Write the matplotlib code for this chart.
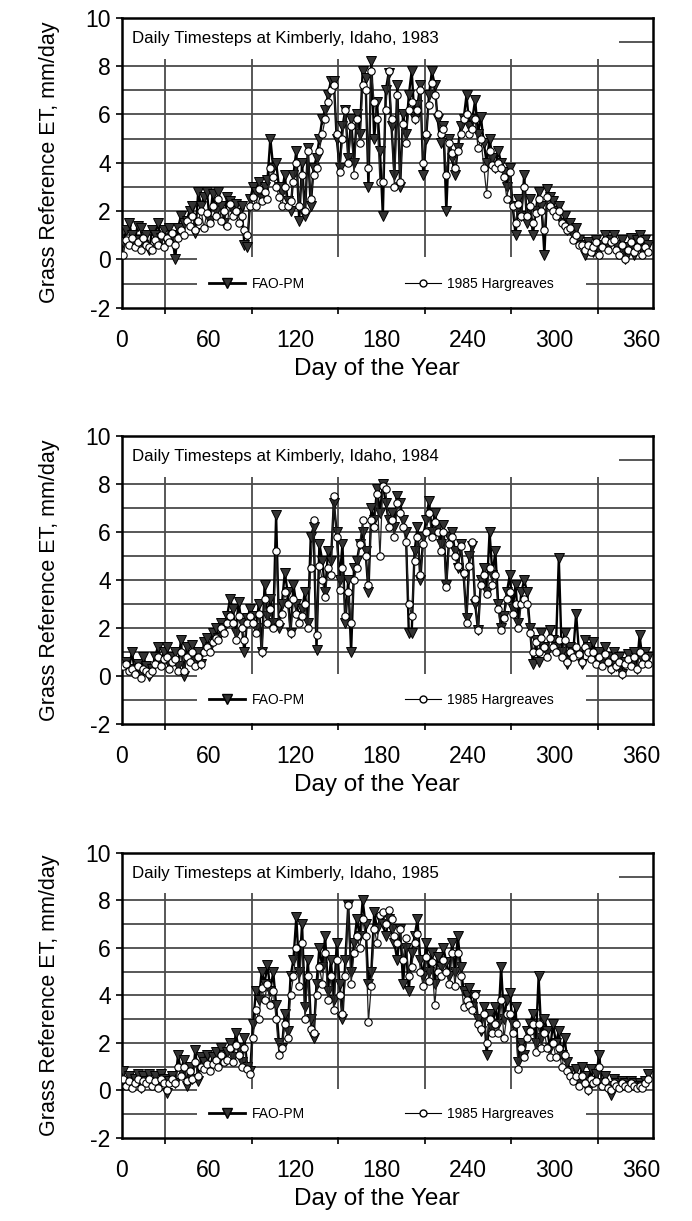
import numpy as np
import matplotlib.pyplot as plt
from matplotlib.patches import Rectangle
from matplotlib.lines import Line2D

plt.rcParams['font.family'] = ['Liberation Sans', 'DejaVu Sans']
plt.rcParams['axes.unicode_minus'] = False

# every second day of the year
days = np.arange(1, 366, 2)

# grass reference ET, mm/day
fao_1983 = [0.7, 1.2, 1.5, 1.0, 0.8, 1.4, 1.3, 0.6, 1.0, 0.4,
            1.2, 1.0, 1.5, 0.9, 1.2, 0.7, 1.3, 1.0, 0.0, 1.3,
            1.8, 1.5, 1.6, 2.0, 2.2, 1.1, 2.8, 2.2, 2.6, 2.8,
            1.6, 2.7, 2.0, 2.8, 2.2, 1.5, 2.6, 2.4, 2.0, 2.3,
            1.9, 2.2, 0.6, 0.5, 2.5, 3.0, 2.8, 3.2, 2.5, 3.0,
            3.3, 5.0, 3.8, 4.0, 3.0, 2.8, 3.5, 2.4, 2.0, 3.5,
            4.5, 1.6, 4.0, 1.8, 4.6, 2.2, 3.8, 4.2, 5.0, 5.8,
            6.2, 6.8, 7.4, 7.4, 5.0, 3.8, 5.5, 6.2, 4.2, 5.8,
            4.0, 6.0, 5.2, 7.8, 7.5, 3.0, 8.2, 5.0, 6.5, 4.5,
            1.8, 7.0, 7.7, 5.5, 3.5, 7.2, 3.0, 6.0, 5.2, 6.8,
            7.8, 5.8, 6.4, 7.2, 3.5, 5.0, 6.8, 7.8, 7.2, 5.8,
            4.8, 5.5, 2.0, 5.0, 4.2, 3.5, 4.6, 5.5, 5.8, 6.8,
            5.5, 5.8, 6.6, 5.2, 5.9, 4.8, 4.0, 5.0, 4.2, 3.8,
            4.5, 4.0, 3.6, 3.0, 3.8, 2.2, 1.0, 2.5, 1.8, 3.5,
            1.5, 2.5, 1.0, 2.0, 2.8, 2.2, 0.2, 2.9, 2.6, 2.4,
            2.0, 2.2, 1.5, 1.8, 1.2, 1.5, 1.0, 1.3, 0.8, 0.6,
            0.2, 0.7, 0.5, 0.3, 0.8, 0.4, 0.6, 1.0, 0.5, 0.8,
            1.0, 0.6, 0.3, 0.8, 0.0, 0.5, 0.9, 0.2, 0.8, 1.0,
            0.4, 0.8, 0.6]
harg_1983 = [0.2, 0.8, 0.6, 0.9, 0.5, 0.7, 0.4, 0.9, 0.6, 0.5,
             0.4, 0.8, 0.6, 1.0, 0.5, 0.9, 0.7, 1.1, 0.6, 0.9,
             1.2, 1.0, 1.6, 1.4, 1.8, 1.2, 1.6, 2.0, 1.3, 1.9,
             1.5, 2.2, 1.8, 2.5, 1.6, 2.0, 1.4, 2.3, 1.8, 2.0,
             1.5, 1.8, 1.2, 1.0, 2.2, 2.6, 2.2, 2.9, 2.4, 2.8,
             2.5, 3.8, 3.4, 3.0, 2.6, 2.2, 3.0, 2.2, 2.4, 3.2,
             4.0, 2.2, 3.5, 2.0, 4.5, 2.5, 3.5, 3.8, 4.5, 5.2,
             5.8, 6.5, 7.0, 7.2, 5.2, 3.6, 5.0, 6.2, 4.0, 5.5,
             3.5, 5.8, 4.8, 7.2, 7.0, 3.8, 7.8, 6.5, 5.8, 3.2,
             3.2, 6.2, 7.8, 5.8, 3.0, 6.8, 3.2, 5.6, 4.8, 6.2,
             6.5, 5.8, 6.2, 7.0, 4.0, 5.2, 6.4, 7.3, 6.8, 6.0,
             5.2, 5.4, 3.5, 4.8, 4.4, 3.8, 4.5, 5.2, 5.8, 6.0,
             5.2, 5.4, 5.8, 4.6, 5.0, 3.8, 2.7, 4.5, 3.9, 3.8,
             4.0, 3.8, 3.4, 2.5, 3.6, 2.2, 1.5, 2.3, 1.8, 3.0,
             1.8, 2.2, 1.5, 1.9, 2.5, 2.0, 1.2, 2.6, 2.2, 2.0,
             1.8, 2.0, 1.5, 1.4, 1.2, 1.3, 0.8, 1.0, 0.6, 0.6,
             0.4, 0.6, 0.3, 0.5, 0.7, 0.2, 0.5, 0.8, 0.4, 0.7,
             0.8, 0.4, 0.2, 0.6, 0.0, 0.4, 0.7, 0.3, 0.5, 0.8,
             0.2, 0.5, 0.3]

fao_1984 = [0.5, 0.6, 0.3, 1.0, 0.2, 0.5, 0.1, 0.8, 0.4, 0.0,
            0.3, 0.8, 1.2, 0.6, 1.0, 1.2, 0.5, 0.8, 1.0, 0.4,
            1.5, 0.0, 1.2, 0.8, 1.3, 0.6, 1.0, 0.5, 1.4, 1.6,
            1.2, 1.8, 2.0, 1.6, 2.2, 2.0, 2.5, 3.2, 2.8, 1.8,
            3.1, 2.2, 1.0, 2.4, 2.8, 2.5, 2.0, 3.0, 1.0, 3.8,
            2.5, 3.2, 2.2, 6.7, 2.0, 3.0, 4.3, 3.5, 1.8, 3.8,
            3.0, 2.5, 2.8, 3.5, 2.2, 5.8, 6.2, 1.1, 5.5, 4.8,
            3.5, 5.2, 4.8, 7.2, 6.0, 4.0, 5.5, 2.2, 4.0, 1.0,
            4.5, 4.8, 5.5, 6.0, 5.2, 3.5, 7.0, 6.5, 7.8, 6.8,
            8.0, 7.2, 6.5, 6.8, 6.2, 7.5, 7.2, 6.5, 6.0, 1.8,
            1.8, 5.2, 6.2, 4.0, 5.8, 6.5, 7.3, 6.0, 6.8, 6.2,
            5.5, 6.3, 3.8, 5.8, 6.0, 5.2, 4.5, 5.5, 4.2, 2.4,
            5.0, 5.4, 3.0, 1.9, 4.0, 4.5, 3.5, 6.0, 4.2, 5.2,
            3.0, 2.0, 2.5, 3.5, 4.2, 2.8, 3.8, 2.2, 3.5, 4.0,
            3.5, 2.0, 0.5, 1.5, 0.6, 1.8, 1.2, 1.0, 1.9, 1.5,
            1.2, 4.9, 1.0, 1.8, 0.5, 1.2, 1.0, 2.6, 1.0, 0.5,
            1.5, 1.2, 0.8, 1.4, 0.6, 1.0, 0.5, 1.2, 0.8, 0.3,
            1.0, 0.4, 0.8, 0.1, 0.6, 0.9, 0.5, 1.0, 0.3, 1.7,
            0.7, 1.0, 0.8]
harg_1984 = [0.4, 0.5, 0.2, 0.3, 0.1, 0.4, -0.1, 0.3, 0.2, 0.1,
             0.2, 0.5, 0.8, 0.4, 0.7, 0.8, 0.3, 0.6, 0.7, 0.2,
             1.0, 0.2, 0.8, 0.6, 1.0, 0.4, 0.8, 0.5, 1.0, 1.2,
             1.0, 1.4, 1.6, 1.5, 2.0, 1.8, 2.2, 2.5, 2.2, 1.5,
             2.5, 2.0, 1.5, 2.2, 2.5, 2.2, 1.8, 2.6, 1.0, 3.2,
             2.2, 2.8, 2.0, 5.2, 2.2, 2.6, 3.5, 3.0, 1.8, 3.2,
             2.6, 2.2, 2.5, 3.0, 2.0, 4.5, 6.5, 1.7, 4.6, 4.0,
             3.3, 4.5, 4.2, 7.5, 5.8, 3.6, 4.5, 2.5, 3.5, 2.2,
             4.0, 4.5, 5.5, 6.5, 5.0, 3.8, 6.5, 6.2, 7.6, 5.0,
             7.9, 7.8, 6.2, 6.5, 5.8, 7.2, 6.8, 6.2, 5.6, 3.0,
             2.5, 4.8, 5.8, 4.2, 5.5, 6.0, 6.8, 5.8, 6.4, 6.0,
             5.2, 6.0, 3.7, 5.5, 5.8, 5.0, 4.6, 5.4, 4.3, 2.2,
             4.6, 5.6, 3.2, 1.9, 3.8, 4.2, 3.4, 4.5, 3.8, 4.2,
             2.8, 1.9, 2.4, 3.2, 3.5, 2.6, 3.0, 2.0, 3.0, 3.2,
             3.0, 1.8, 1.0, 1.4, 1.0, 1.6, 1.2, 0.8, 1.6, 1.2,
             1.0, 1.5, 0.8, 1.5, 0.6, 1.0, 0.8, 1.2, 0.9, 0.6,
             1.2, 1.0, 0.7, 1.0, 0.5, 0.8, 0.4, 0.9, 0.6, 0.3,
             0.8, 0.4, 0.6, 0.1, 0.5, 0.7, 0.4, 0.8, 0.3, 1.0,
             0.5, 0.8, 0.5]

fao_1985 = [0.8, 0.3, 0.6, 0.2, 0.5, 0.7, 0.1, 0.6, 0.4, 0.7,
            0.3, 0.6, 0.2, 0.7, 0.5, -0.1, 0.4, 0.6, 0.3, 1.5,
            0.8, 1.3, 0.2, 1.0, 0.5, 1.7, 0.4, 1.4, 1.2, 1.5,
            1.0, 1.4, 1.6, 1.2, 1.8, 1.5, 1.6, 2.0, 1.4, 2.4,
            1.8, 1.2, 2.2, 1.0, 0.8, 2.8, 4.2, 3.8, 5.0, 4.5,
            5.3, 4.2, 5.0, 3.6, 2.0, 1.8, 3.2, 2.5, 4.8, 5.5,
            7.3, 5.0, 7.0, 3.5, 5.5, 3.0, 2.2, 4.5, 6.0, 5.2,
            6.5, 4.2, 5.5, 3.8, 6.2, 4.5, 3.0, 5.5, 7.8, 5.0,
            6.2, 7.2, 6.5, 8.0, 7.0, 4.5, 5.0, 7.5, 6.8, 7.2,
            7.0, 6.5, 7.2, 6.8, 6.2, 5.5, 6.8, 4.5, 6.0, 4.2,
            5.8, 6.5, 7.2, 5.5, 4.8, 6.2, 5.0, 5.8, 4.5, 5.6,
            5.2, 6.0, 5.4, 4.8, 6.2, 5.0, 6.5, 5.2, 4.2, 4.0,
            4.3, 3.5, 4.0, 3.0, 2.5, 3.5, 1.5, 3.2, 2.6, 3.5,
            2.8, 5.2, 3.0, 3.8, 4.1, 2.8, 3.5, 1.2, 2.0, 1.5,
            2.5, 2.8, 3.2, 2.0, 4.8, 2.2, 3.0, 2.5, 1.8, 2.8,
            2.0, 2.5, 1.5, 2.2, 1.2, 0.8, 0.5, 0.9, 0.3, 1.0,
            0.6, 0.0, 0.9, 0.4, 0.7, 1.5, 0.3, 0.6, 0.2, -0.2,
            0.5, 0.3, 0.2, 0.4, 0.3, 0.2, 0.4, 0.3, 0.2, 0.3,
            0.2, 0.4, 0.7]
harg_1985 = [0.5, 0.2, 0.4, 0.1, 0.3, 0.5, 0.1, 0.4, 0.3, 0.5,
             0.2, 0.4, 0.1, 0.5, 0.3, 0.0, 0.3, 0.5, 0.3, 1.0,
             0.6, 1.0, 0.4, 0.8, 0.5, 1.2, 0.6, 1.0, 0.9, 1.1,
             0.8, 1.1, 1.3, 1.0, 1.5, 1.2, 1.3, 1.8, 1.2, 1.9,
             1.5, 1.0, 1.8, 0.9, 0.7, 2.2, 3.4, 3.0, 4.3, 3.8,
             4.5, 3.6, 4.2, 3.0, 1.5, 1.8, 2.8, 2.2, 4.0, 4.8,
             6.0, 4.4, 6.2, 3.0, 4.8, 2.6, 2.4, 4.0, 5.2, 4.5,
             5.8, 3.8, 4.8, 3.4, 5.5, 4.0, 3.2, 4.8, 7.8, 4.5,
             5.8, 6.5, 6.0, 7.2, 6.5, 2.9, 4.4, 6.8, 6.2, 7.4,
             7.5, 7.0, 7.6, 7.2, 6.5, 6.2, 6.8, 5.5, 6.4, 4.8,
             5.2, 6.2, 6.6, 5.0, 4.4, 5.6, 4.6, 5.4, 3.6, 5.0,
             4.8, 5.5, 5.0, 4.5, 5.8, 4.4, 5.8, 4.8, 3.5, 3.8,
             3.6, 3.4, 4.0, 2.8, 2.6, 3.2, 2.0, 3.0, 2.4, 2.8,
             2.4, 3.8, 2.2, 3.2, 3.2, 2.4, 2.8, 0.9, 1.8, 1.4,
             2.2, 2.5, 2.8, 1.6, 2.8, 1.8, 2.4, 1.8, 1.4, 2.0,
             1.4, 1.8, 1.0, 1.5, 0.8, 0.6, 0.4, 0.6, 0.2, 0.6,
             0.3, 0.0, 0.5, 0.3, 0.4, 1.0, 0.2, 0.4, 0.1, 0.0,
             0.3, 0.2, 0.1, 0.3, 0.2, 0.1, 0.3, 0.2, 0.1, 0.2,
             0.1, 0.3, 0.5]

years = ['1983', '1984', '1985']
fao = [fao_1983, fao_1984, fao_1985]
harg = [harg_1983, harg_1984, harg_1985]

fig = plt.figure(figsize=(6.92, 12.21), dpi=100)
boxes = [[0.176, 0.748, 0.767, 0.2375],
         [0.176, 0.407, 0.767, 0.236],
         [0.176, 0.068, 0.767, 0.2335]]

grid_c = '#4a4a4a'
for box, yr, f, h in zip(boxes, years, fao, harg):
    ax = fig.add_axes(box)
    ax.set_xlim(0, 368)
    ax.set_ylim(-2, 10)

    # grid drawn by hand, then white boxes behind the title and legend
    for y in range(-1, 10):
        ax.axhline(y, color=grid_c, lw=1.3, zorder=1)
    for x in range(30, 331, 60):
        ax.axvline(x, color=grid_c, lw=1.3, zorder=1)
    ax.add_patch(Rectangle((0, 8.3), 345, 1.7, fc='white', ec='none', zorder=2))
    ax.add_patch(Rectangle((52, -1.97), 270, 2.05, fc='white', ec='none', zorder=2))

    ax.plot(days, f, color='black', lw=1.7, marker='v', ms=7,
            mfc='#333333', mec='black', mew=0.7, zorder=3)
    ax.plot(days, h, color='#222222', lw=0.9, marker='o', ms=5.3,
            mfc='white', mec='black', mew=0.8, zorder=4)

    ax.text(7, 9.15, 'Daily Timesteps at Kimberly, Idaho, ' + yr,
            fontsize=12.2, va='center', ha='left', zorder=5)

    handles = [Line2D([], [], color='black', lw=2.0, marker='v', ms=7,
                      mfc='#333333', mec='black'),
               Line2D([], [], color='black', lw=0.8, marker='o', ms=5,
                      mfc='white', mec='black')]
    ax.legend(handles, ['FAO-PM', '1985 Hargreaves'], ncol=2, frameon=False,
              loc='center left', bbox_to_anchor=(0.165, 0.0833),
              fontsize=10, handlelength=2.6, handletextpad=0.45,
              columnspacing=7.2, borderpad=0, borderaxespad=0)

    ax.set_xticks(range(0, 361, 60))
    ax.set_xticks([0, 30, 90, 150, 210, 270, 330, 360], minor=True)
    ax.set_yticks(range(-2, 11, 2))
    ax.tick_params(axis='x', which='major', length=0, pad=15, labelsize=16.5)
    ax.tick_params(axis='x', which='minor', length=4, width=1.2, direction='out')
    ax.tick_params(axis='y', length=4, width=1.2, direction='out', pad=4,
                   labelsize=16.5)
    for s in ax.spines.values():
        s.set_linewidth(1.8)

    ax.set_xlabel('Day of the Year', fontsize=17.5, labelpad=4)
    ax.xaxis.set_label_coords(0.48, -0.175)
    ax.set_ylabel('Grass Reference ET, mm/day', fontsize=15.5, labelpad=18)

fig.savefig('out.png', dpi=100, facecolor='white')
